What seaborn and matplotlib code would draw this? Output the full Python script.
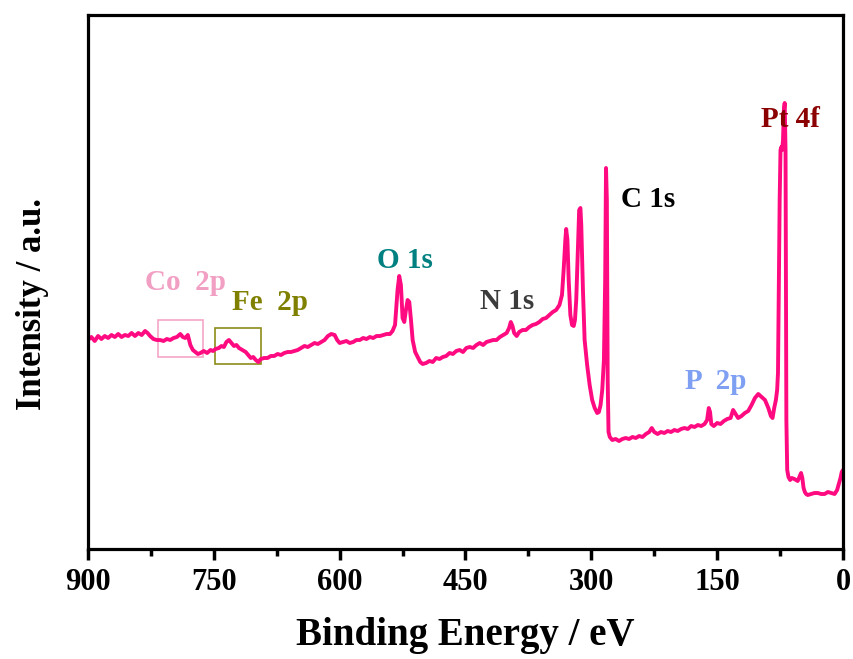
import matplotlib
matplotlib.use("Agg")
import matplotlib.pyplot as plt
import matplotlib.patches as mpatches
from matplotlib.ticker import MultipleLocator
import seaborn as sns
import pandas as pd

# Binding energy (eV) and intensity (a.u.)
binding_energy = [
    900, 896, 892, 888, 884, 880, 876, 872, 868, 864, 860, 856, 852, 848, 844, 840, 836, 832, 829, 826,
    822, 818, 814, 810, 806, 802, 798, 794, 790, 787, 784, 781, 778, 775, 772, 769, 766, 762, 758, 754,
    751, 748, 744, 741, 738, 735, 732, 729, 726, 723, 720, 716, 712, 709, 706, 703, 700, 697, 694, 690,
    686, 682, 678, 674, 670, 666, 662, 658, 654, 650, 646, 642, 638, 634, 630, 626, 622, 618, 614, 610,
    606, 603, 600, 596, 592, 588, 584, 580, 576, 572, 568, 564, 560, 556, 552, 548, 544, 540, 537, 534,
    531, 529, 527, 525, 523, 521, 519, 517, 515, 513, 510, 507, 504, 501, 497, 493, 489, 485, 481, 477,
    473, 469, 465, 461, 457, 453, 449, 445, 441, 437, 433, 429, 425, 421, 417, 413, 409, 405, 401, 398,
    396, 394, 392, 389, 386, 382, 378, 374, 370, 366, 362, 358, 354, 350, 346, 342, 338, 335, 333, 331,
    330, 328.5, 327, 325, 323, 321, 319.5, 318, 316, 314.5, 313, 312, 310, 308, 305, 302, 299, 296, 293, 291,
    289, 287, 285, 283.5, 282.5, 281.5, 280.5, 279.5, 278, 275, 271, 267, 263, 259, 255, 251, 247, 243, 239, 235,
    231, 228, 225, 221, 217, 213, 209, 205, 201, 197, 193, 189, 185, 181, 177, 173, 169, 165, 162, 160,
    158.5, 157, 154, 150, 146, 142, 138, 134, 131, 128, 125, 121, 117, 113, 109, 105, 101, 97, 93, 89,
    86, 84, 82, 80, 78.5, 77.5, 76.5, 75.5, 74.5, 73.5, 72.5, 71.5, 70.5, 69.5, 68.5, 67.5, 66.5, 65, 63, 61,
    58, 56, 54, 52, 50, 48.5, 47, 45.5, 44, 42, 38, 34, 30, 26, 22, 18, 14, 10, 7, 5,
    3, 1.5, 0,
]
pixel_level = [
    340, 337, 341, 336, 339, 336, 338, 335, 337, 334, 337, 335, 336, 333, 336, 333, 335, 331, 333, 336,
    339, 340, 340, 341, 339, 340, 338, 337, 334, 337, 338, 335, 345, 350, 352, 354, 353, 351, 353, 350,
    351, 349, 348, 346, 347, 342, 340, 343, 346, 345, 348, 350, 352, 355, 358, 357, 360, 362, 359, 358,
    358, 356, 356, 354, 355, 353, 352, 352, 351, 350, 348, 346, 347, 345, 343, 344, 342, 340, 336, 334,
    335, 340, 343, 342, 341, 343, 342, 340, 340, 338, 339, 337, 338, 336, 336, 335, 334, 334, 331, 325,
    290, 276, 285, 318, 322, 310, 300, 302, 320, 340, 352, 357, 362, 364, 363, 361, 362, 358, 359, 357,
    356, 353, 354, 351, 350, 352, 348, 347, 348, 345, 343, 345, 342, 341, 340, 340, 337, 335, 333, 328,
    322, 326, 333, 336, 332, 330, 330, 327, 325, 324, 322, 319, 318, 315, 312, 310, 305, 295, 270, 240,
    229, 240, 280, 315, 325, 326, 320, 300, 250, 210, 208, 225, 290, 340, 365, 385, 400, 408, 413, 412,
    405, 390, 360, 280, 168, 200, 380, 432, 437, 440, 439, 441, 439, 438, 439, 437, 438, 436, 437, 434,
    432, 428, 432, 434, 432, 433, 431, 432, 430, 431, 429, 428, 429, 426, 427, 425, 426, 424, 420, 408,
    412, 424, 426, 423, 424, 421, 419, 418, 410, 414, 418, 416, 413, 411, 405, 398, 394, 397, 400, 408,
    416, 418, 408, 400, 390, 373, 290, 200, 150, 147, 150, 140, 110, 103, 150, 420, 470, 477, 480, 478,
    479, 480, 481, 477, 473, 478, 488, 492, 494, 495, 494, 493, 493, 494, 494, 492, 493, 494, 490, 484,
    478, 472, 470,
]
intensity = [549 - v for v in pixel_level]

x_ticks = [900, 750, 600, 450, 300, 150, 0]

peak_labels = ["Co  2p", "Fe  2p", "O 1s", "N 1s", "C 1s", "P  2p", "Pt 4f"]
label_energy = [784.4, 683.0, 522.0, 400.6, 232.5, 151.4, 63.2]
label_intensity = [259, 239, 281, 240, 342, 160, 422]
label_colors = ["#f29fc4", "#808000", "#008080", "#3c3c3c", "#000000", "#7f9ff2", "#8b0000"]

df = pd.DataFrame({"Binding Energy": binding_energy, "Intensity": intensity})

sns.set_theme(style="white")
plt.rcParams["font.family"] = ["Liberation Serif", "DejaVu Serif"]
plt.rcParams["font.weight"] = "bold"
plt.rcParams["text.color"] = "black"
plt.rcParams["axes.labelcolor"] = "black"
plt.rcParams["xtick.color"] = "black"

fig = plt.figure(figsize=(8.54, 6.59), dpi=100)
ax = fig.add_axes([88 / 854, 1 - 549 / 659, (843 - 88) / 854, (549 - 15) / 659])

sns.lineplot(data=df, x="Binding Energy", y="Intensity", ax=ax, color="#ff0a80",
             linewidth=2.8, estimator=None, sort=False)

ax.set_xlim(900, 0)
ax.set_ylim(0, 534)
ax.set_xticks(x_ticks)
ax.xaxis.set_minor_locator(MultipleLocator(75))
ax.set_yticks([])
ax.tick_params(axis="x", which="major", direction="out", length=8, width=2.5,
               labelsize=22, pad=6, bottom=True, colors="black")
ax.tick_params(axis="x", which="minor", direction="out", length=5, width=2.5, bottom=True)
for lbl in ax.get_xticklabels():
    lbl.set_fontweight("bold")
for sp in ax.spines.values():
    sp.set_linewidth(2.3)
    sp.set_color("black")

ax.set_xlabel("Binding Energy / eV", fontsize=28, fontweight="bold", color="black")
ax.xaxis.set_label_coords(0.5, -0.128)
ax.set_ylabel("Intensity / a.u.", fontsize=25, fontweight="bold", color="black")
ax.yaxis.set_label_coords(-0.052, 0.459)

for t, xe, yi, c in zip(peak_labels, label_energy, label_intensity, label_colors):
    ax.text(xe, yi, t, color=c, fontsize=21, fontweight="bold", ha="center", va="baseline")

# highlight boxes for Co 2p and Fe 2p regions
ax.add_patch(mpatches.Rectangle((816.6, 192), 762.9 - 816.6, 37, fill=False,
                                edgecolor="#f5a6c8", linewidth=1.2))
ax.add_patch(mpatches.Rectangle((748.6, 185), 693.8 - 748.6, 36, fill=False,
                                edgecolor="#8c8c1a", linewidth=1.2))

fig.savefig("out.png", dpi=100)
